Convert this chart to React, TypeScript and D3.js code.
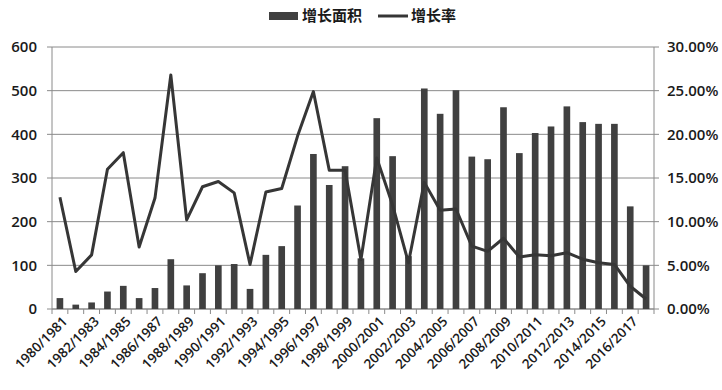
import React from "react";
import * as d3 from "d3";

const categories: string[] = [
  "1980/1981","1981/1982","1982/1983","1983/1984","1984/1985","1985/1986","1986/1987","1987/1988",
  "1988/1989","1989/1990","1990/1991","1991/1992","1992/1993","1993/1994","1994/1995","1995/1996",
  "1996/1997","1997/1998","1998/1999","1999/2000","2000/2001","2001/2002","2002/2003","2003/2004",
  "2004/2005","2005/2006","2006/2007","2007/2008","2008/2009","2009/2010","2010/2011","2011/2012",
  "2012/2013","2013/2014","2014/2015","2015/2016","2016/2017","2017/2018"
];
const areaGrowth: number[] = [
  25, 10, 15, 40, 53, 25, 48, 114, 54, 82, 100, 103, 46, 124, 144, 237, 355, 284, 327, 116,
  437, 350, 121, 505, 447, 501, 349, 343, 462, 357, 403, 418, 464, 428, 424, 424, 235, 100
];
const growthRate: number[] = [
  12.8, 4.3, 6.2, 16.0, 17.9, 7.1, 12.7, 26.8, 10.2, 14.0, 14.6, 13.3, 5.1, 13.4, 13.8, 19.8,
  24.9, 15.9, 15.9, 5.65, 17.3, 11.9, 5.3, 14.5, 11.3, 11.45, 7.2, 6.6, 8.1, 5.95, 6.2, 6.1,
  6.45, 5.7, 5.3, 5.1, 2.6, 1.15
];
const leftTicks: number[] = [0, 100, 200, 300, 400, 500, 600];
const rightTicks: number[] = [0, 5, 10, 15, 20, 25, 30];
const legendLabels: string[] = ["增长面积", "增长率"];

const W = 722, H = 390;
const M = { left: 52, right: 68, top: 47, bottom: 81 };
const FONT = "'Open Sans', 'Noto Sans CJK SC', sans-serif";

export default function App() {
  const x = d3.scaleBand<string>().domain(categories).range([M.left, W - M.right]).paddingInner(0.58).paddingOuter(0.29);
  const yL = d3.scaleLinear().domain([0, 600]).range([H - M.bottom, M.top]);
  const yR = d3.scaleLinear().domain([0, 30]).range([H - M.bottom, M.top]);
  const cx = (c: string) => (x(c) ?? 0) + x.bandwidth() / 2;
  const line = d3.line<number>().x((_, i) => cx(categories[i])).y((d) => yR(d));
  const y0 = H - M.bottom;
  const boundaries = d3.range(categories.length + 1).map((i) => M.left + ((W - M.right - M.left) * i) / categories.length);

  return (
    <svg width={W} height={H} style={{ position: "absolute", left: 0, top: 0, background: "#fff" }} fontFamily={FONT} fontWeight={600}>
      {/* gridlines */}
      {leftTicks.map((t) => (
        <line key={"g" + t} x1={M.left - 5} x2={W - M.right + 5} y1={yL(t)} y2={yL(t)} stroke="#8a8a8a" strokeWidth={1} />
      ))}
      {/* axes */}
      <line x1={M.left} x2={M.left} y1={M.top} y2={y0} stroke="#8a8a8a" />
      <line x1={W - M.right} x2={W - M.right} y1={M.top} y2={y0} stroke="#8a8a8a" />
      <line x1={M.left} x2={W - M.right} y1={y0} y2={y0} stroke="#8a8a8a" />
      {boundaries.map((b, i) => (
        <line key={"t" + i} x1={b} x2={b} y1={y0} y2={y0 + 5} stroke="#8a8a8a" />
      ))}
      {/* bars */}
      {categories.map((c, i) => (
        <rect key={c} x={x(c)} y={yL(areaGrowth[i])} width={x.bandwidth()} height={y0 - yL(areaGrowth[i])} fill="#404040" />
      ))}
      {/* line */}
      <path d={line(growthRate) ?? ""} fill="none" stroke="#363636" strokeWidth={3} strokeLinejoin="round" />
      {/* left tick labels */}
      {leftTicks.map((t) => (
        <text key={"l" + t} x={37} y={yL(t)} dy="0.35em" textAnchor="end" fontSize={15} fill="#1a1a1a">{t}</text>
      ))}
      {rightTicks.map((t) => (
        <text key={"r" + t} x={667} y={yR(t)} dy="0.35em" textAnchor="start" fontSize={15} fill="#1a1a1a">{t.toFixed(2)}%</text>
      ))}
      {/* x labels */}
      {categories.map((c, i) =>
        i % 2 === 0 ? (
          <text key={"x" + c} transform={`translate(${cx(c) + 5},${y0 + 10}) rotate(-45)`} textAnchor="end" dy="0.35em" fontSize={13.5} fill="#1a1a1a">{c}</text>
        ) : null
      )}
      {/* legend */}
      <rect x={269} y={12} width={29} height={8} fill="#404040" />
      <text x={302} y={16} dy="0.35em" fontSize={15} fill="#1a1a1a">{legendLabels[0]}</text>
      <line x1={378} x2={408} y1={16} y2={16} stroke="#363636" strokeWidth={3} />
      <text x={411} y={16} dy="0.35em" fontSize={15} fill="#1a1a1a">{legendLabels[1]}</text>
    </svg>
  );
}
